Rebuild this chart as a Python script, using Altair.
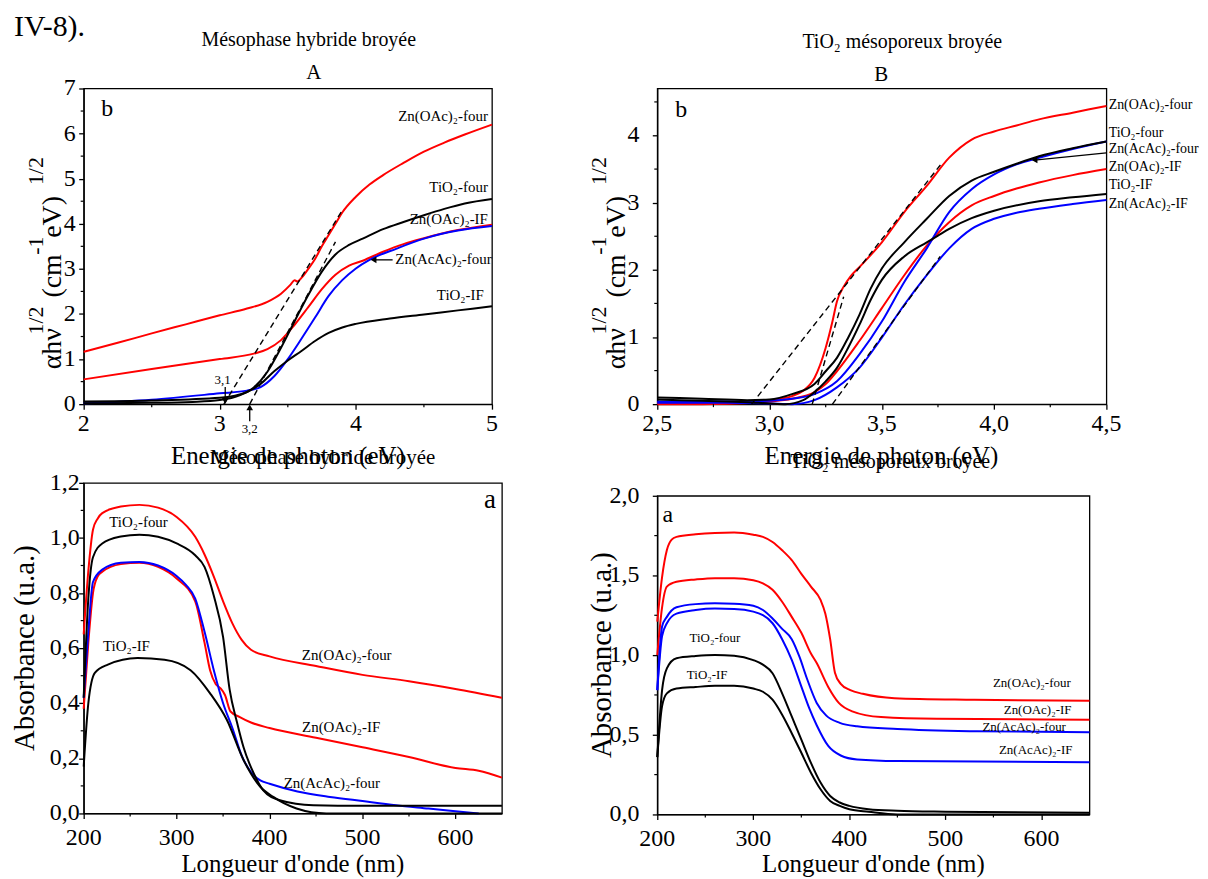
import altair as alt
import pandas as pd

FONT = "Liberation Serif"
RED, BLUE, BLACK = "#ff0000", "#0000ff", "#000000"

# ---------------- Panel A (top-left): Mésophase hybride broyée, Tauc plot ----------------
A_ZnOAc_four_E = [2.0, 2.25, 2.5, 2.75, 3.0, 3.2, 3.35, 3.45, 3.52, 3.55, 3.57, 3.6, 3.65, 3.7, 3.75, 3.8, 3.85, 3.9, 4.0, 4.1, 4.2, 4.35, 4.5, 4.65, 4.8, 5.0]
A_ZnOAc_four_v = [1.16, 1.36, 1.57, 1.77, 1.97, 2.12, 2.27, 2.45, 2.65, 2.75, 2.72, 2.8, 3.0, 3.22, 3.5, 3.75, 4.0, 4.25, 4.6, 4.87, 5.08, 5.35, 5.6, 5.8, 5.98, 6.2]
A_TiO2_four_E = [2.0, 2.5, 2.8, 3.0, 3.15, 3.25, 3.35, 3.45, 3.55, 3.65, 3.75, 3.85, 3.95, 4.05, 4.2, 4.35, 4.5, 4.65, 4.8, 5.0]
A_TiO2_four_v = [0.02, 0.03, 0.05, 0.09, 0.2, 0.37, 0.72, 1.25, 1.84, 2.42, 2.94, 3.32, 3.53, 3.67, 3.88, 4.04, 4.19, 4.33, 4.45, 4.55]
A_ZnOAc_IF_E = [2.0, 2.5, 3.0, 3.25, 3.35, 3.45, 3.55, 3.65, 3.75, 3.85, 3.95, 4.05, 4.2, 4.35, 4.5, 4.75, 5.0]
A_ZnOAc_IF_v = [0.55, 0.78, 1.0, 1.12, 1.22, 1.42, 1.76, 2.15, 2.55, 2.87, 3.07, 3.18, 3.38, 3.55, 3.68, 3.86, 3.98]
A_ZnAcAc_four_E = [2.0, 2.5, 3.0, 3.2, 3.3, 3.4, 3.5, 3.6, 3.7, 3.8, 3.9, 4.0, 4.1, 4.3, 4.5, 4.75, 5.0]
A_ZnAcAc_four_v = [0.02, 0.1, 0.24, 0.3, 0.38, 0.62, 1.0, 1.45, 1.92, 2.4, 2.75, 3.01, 3.2, 3.45, 3.67, 3.85, 3.95]
A_TiO2_IF_E = [2.0, 2.5, 3.0, 3.2, 3.3, 3.4, 3.5, 3.6, 3.7, 3.8, 3.9, 4.0, 4.25, 4.5, 4.75, 5.0]
A_TiO2_IF_v = [0.06, 0.08, 0.14, 0.27, 0.45, 0.73, 0.97, 1.18, 1.4, 1.58, 1.7, 1.78, 1.9, 1.99, 2.08, 2.17]
A_tangents = [(3.03, 0.0, 3.9, 4.3), (3.22, 0.0, 3.85, 3.6)]

# ---------------- Panel B (top-right): TiO2 mésoporeux broyée, Tauc plot ----------------
B_ZnOAc_four_E = [2.5, 2.7, 2.9, 3.0, 3.1, 3.15, 3.2, 3.25, 3.28, 3.3, 3.33, 3.36, 3.4, 3.5, 3.6, 3.7, 3.8, 3.9, 4.0, 4.1, 4.2, 4.35, 4.5]
B_ZnOAc_four_v = [0.0, 0.0, 0.02, 0.06, 0.12, 0.2, 0.39, 0.84, 1.23, 1.53, 1.75, 1.9, 2.04, 2.41, 2.86, 3.25, 3.67, 3.94, 4.06, 4.15, 4.24, 4.34, 4.44]
B_TiO2_four_E = [2.5, 2.7, 2.9, 3.0, 3.1, 3.2, 3.25, 3.3, 3.35, 3.4, 3.45, 3.5, 3.6, 3.7, 3.8, 3.9, 4.0, 4.1, 4.2, 4.35, 4.5]
B_TiO2_four_v = [0.1, 0.08, 0.06, 0.07, 0.15, 0.3, 0.49, 0.69, 0.99, 1.33, 1.72, 2.02, 2.41, 2.76, 3.1, 3.33, 3.46, 3.58, 3.69, 3.81, 3.91]
B_TiO2_IF_E = [2.5, 2.7, 2.9, 3.0, 3.07, 3.15, 3.2, 3.25, 3.3, 3.35, 3.4, 3.45, 3.5, 3.6, 3.7, 3.75, 3.8, 3.9, 4.0, 4.2, 4.35, 4.5]
B_TiO2_IF_v = [0.07, 0.05, 0.03, 0.01, 0.0, 0.06, 0.18, 0.34, 0.54, 0.84, 1.18, 1.55, 1.85, 2.2, 2.41, 2.51, 2.61, 2.77, 2.88, 3.02, 3.08, 3.13]
B_ZnOAc_IF_E = [2.5, 2.8, 3.0, 3.1, 3.2, 3.25, 3.3, 3.4, 3.5, 3.6, 3.7, 3.8, 3.9, 4.0, 4.1, 4.2, 4.35, 4.5]
B_ZnOAc_IF_v = [0.02, 0.01, 0.04, 0.08, 0.18, 0.3, 0.49, 0.94, 1.43, 1.92, 2.36, 2.71, 2.96, 3.1, 3.21, 3.3, 3.41, 3.5]
B_ZnAcAc_four_E = [2.5, 2.8, 3.0, 3.1, 3.2, 3.3, 3.4, 3.5, 3.6, 3.7, 3.8, 3.9, 4.0, 4.1, 4.2, 4.35, 4.5]
B_ZnAcAc_four_v = [0.04, 0.04, 0.05, 0.08, 0.15, 0.34, 0.74, 1.23, 1.82, 2.32, 2.86, 3.2, 3.42, 3.57, 3.67, 3.8, 3.91]
B_ZnAcAc_IF_E = [2.5, 2.8, 3.0, 3.1, 3.2, 3.3, 3.4, 3.5, 3.6, 3.7, 3.8, 3.9, 4.0, 4.1, 4.2, 4.35, 4.5]
B_ZnAcAc_IF_v = [0.02, 0.02, 0.01, 0.0, 0.06, 0.25, 0.54, 0.99, 1.48, 1.92, 2.32, 2.61, 2.76, 2.85, 2.91, 2.98, 3.04]
B_tangents = [(2.92, 0.0, 3.77, 3.6), (3.19, 0.0, 3.33, 1.6), (3.28, 0.0, 3.76, 2.2)]

# ---------------- Panel C (bottom-left): Mésophase hybride broyée, absorbance ----------------
C_ZnOAc_four_nm = [200, 205, 210, 215, 220, 240, 260, 280, 300, 320, 330, 340, 350, 360, 370, 380, 400, 450, 500, 550, 600, 650]
C_ZnOAc_four_A = [0.65, 0.88, 1.03, 1.07, 1.09, 1.114, 1.12, 1.11, 1.076, 1.004, 0.94, 0.86, 0.77, 0.69, 0.63, 0.594, 0.57, 0.535, 0.503, 0.48, 0.452, 0.42]
C_TiO2_four_nm = [200, 205, 210, 220, 240, 260, 280, 300, 320, 330, 340, 350, 357, 365, 372, 383, 393, 411, 447, 500, 570, 650]
C_TiO2_four_A = [0.42, 0.78, 0.93, 0.98, 1.005, 1.012, 1.004, 0.98, 0.937, 0.895, 0.79, 0.64, 0.45, 0.33, 0.24, 0.145, 0.085, 0.048, 0.03, 0.028, 0.028, 0.028]
C_TiO2_IF_nm = [200, 205, 212, 226, 258, 287, 315, 336, 354, 372, 390, 404, 429, 461, 650]
C_TiO2_IF_A = [0.17, 0.4, 0.51, 0.54, 0.564, 0.558, 0.52, 0.436, 0.34, 0.194, 0.097, 0.06, 0.018, 0.0, 0.0]
C_ZnOAc_IF_nm = [200, 205, 210, 215, 220, 240, 260, 280, 300, 320, 330, 336, 342, 347, 352, 358, 368, 380, 400, 450, 500, 550, 600, 625, 650]
C_ZnOAc_IF_A = [0.38, 0.62, 0.8, 0.86, 0.877, 0.905, 0.91, 0.895, 0.853, 0.77, 0.62, 0.52, 0.47, 0.455, 0.43, 0.37, 0.35, 0.33, 0.31, 0.275, 0.24, 0.205, 0.165, 0.155, 0.13]
C_ZnAcAc_four_nm = [200, 205, 210, 220, 240, 260, 280, 300, 310, 320, 330, 340, 350, 360, 370, 380, 390, 400, 430, 465, 500, 536, 571, 600, 625]
C_ZnAcAc_four_A = [0.42, 0.66, 0.84, 0.885, 0.91, 0.913, 0.9, 0.862, 0.83, 0.78, 0.66, 0.52, 0.4, 0.31, 0.21, 0.15, 0.12, 0.108, 0.08, 0.06, 0.045, 0.03, 0.018, 0.008, 0.0]

# ---------------- Panel D (bottom-right): TiO2 mésoporeux broyée, absorbance ----------------
D_ZnOAc_four_nm = [200, 205, 210, 215, 220, 240, 260, 280, 300, 310, 320, 330, 340, 350, 360, 370, 375, 380, 385, 391, 401, 414, 447, 530, 650]
D_ZnOAc_four_A = [1.21, 1.49, 1.66, 1.725, 1.742, 1.758, 1.767, 1.77, 1.756, 1.742, 1.71, 1.658, 1.596, 1.51, 1.43, 1.346, 1.26, 1.1, 0.89, 0.82, 0.78, 0.757, 0.73, 0.72, 0.713]
D_ZnOAc_IF_nm = [200, 205, 210, 220, 240, 260, 280, 300, 310, 320, 330, 340, 350, 360, 366, 378, 389, 403, 433, 491, 650]
D_ZnOAc_IF_A = [1.0, 1.3, 1.43, 1.46, 1.475, 1.483, 1.483, 1.47, 1.45, 1.41, 1.335, 1.24, 1.14, 1.01, 0.95, 0.8, 0.7, 0.647, 0.611, 0.6, 0.595]
D_ZnAcAc_four_nm = [200, 205, 210, 220, 240, 260, 280, 300, 310, 320, 330, 340, 348, 356, 366, 376, 390, 408, 450, 533, 650]
D_ZnAcAc_four_A = [0.78, 1.18, 1.24, 1.3, 1.32, 1.325, 1.323, 1.31, 1.283, 1.23, 1.165, 1.1, 0.99, 0.85, 0.7, 0.62, 0.575, 0.553, 0.536, 0.522, 0.516]
D_ZnAcAc_IF_nm = [200, 205, 210, 220, 240, 260, 280, 300, 320, 330, 340, 349, 358, 366, 378, 391, 408, 450, 650]
D_ZnAcAc_IF_A = [0.78, 1.12, 1.2, 1.26, 1.283, 1.292, 1.29, 1.273, 1.2, 1.1, 0.97, 0.82, 0.67, 0.56, 0.43, 0.37, 0.345, 0.335, 0.328]
D_TiO2_four_nm = [200, 205, 210, 220, 240, 260, 280, 300, 310, 320, 330, 340, 350, 360, 370, 380, 390, 400, 420, 450, 500, 650]
D_TiO2_four_A = [0.36, 0.78, 0.917, 0.98, 0.994, 1.0, 0.996, 0.969, 0.94, 0.886, 0.76, 0.615, 0.47, 0.324, 0.2, 0.116, 0.075, 0.054, 0.033, 0.023, 0.017, 0.01]
D_TiO2_IF_nm = [200, 205, 210, 220, 240, 260, 280, 300, 310, 320, 330, 340, 350, 360, 370, 380, 390, 400, 420, 450, 650]
D_TiO2_IF_A = [0.36, 0.68, 0.76, 0.79, 0.8, 0.807, 0.807, 0.79, 0.77, 0.72, 0.626, 0.51, 0.387, 0.262, 0.158, 0.085, 0.054, 0.033, 0.017, 0.0, 0.0]

# tick values
A_xticks, A_yticks = [2, 3, 4, 5], [0, 1, 2, 3, 4, 5, 6, 7]
A_xminor, A_yminor = [2.5, 3.5, 4.5], [0.5, 1.5, 2.5, 3.5, 4.5, 5.5, 6.5]
B_xticks, B_yticks = [2.5, 3.0, 3.5, 4.0, 4.5], [0, 1, 2, 3, 4]
B_xminor, B_yminor = [2.75, 3.25, 3.75, 4.25], [0.5, 1.5, 2.5, 3.5, 4.5]
C_xticks, C_yticks = [200, 300, 400, 500, 600], [0.0, 0.2, 0.4, 0.6, 0.8, 1.0, 1.2]
C_xminor, C_yminor = [250, 350, 450, 550], [0.1, 0.3, 0.5, 0.7, 0.9, 1.1]
D_xticks, D_yticks = [200, 300, 400, 500, 600], [0.0, 0.5, 1.0, 1.5, 2.0]
D_xminor, D_yminor = [250, 350, 450, 550], [0.25, 0.75, 1.25, 1.75]

ONE = pd.DataFrame({"k": [0]})


def fmt_int(vals):
    return [str(int(round(v))) for v in vals]


def fmt_comma(vals):
    return [f"{v:.1f}".replace(".", ",") for v in vals]


def axis(values):
    # ticks and domain line only; tick labels and titles are drawn as text marks
    return alt.Axis(values=values, labels=False, title=None)


class Panel:
    def __init__(self, xs, ys, xt, yt, w, h):
        self.xs, self.ys, self.w, self.h = xs, ys, w, h
        self.xa, self.ya = axis(xt), axis(yt)

    def X(self, f="x"):
        return alt.X(f + ":Q", scale=self.xs, axis=self.xa)

    def Y(self, f="y"):
        return alt.Y(f + ":Q", scale=self.ys, axis=self.ya)

    def lines(self, series):
        rows = []
        for name, color, xv, yv in series:
            for a, b in zip(xv, yv):
                rows.append({"s": name, "c": color, "x": a, "y": b})
        return alt.Chart(pd.DataFrame(rows)).mark_line(strokeWidth=2, interpolate="monotone").encode(
            x=self.X(), y=self.Y(), color=alt.Color("c:N", scale=None), detail="s:N")

    def dashed(self, segs):
        rows = []
        for k, (x0, y0, x1, y1) in enumerate(segs):
            rows += [{"g": k, "x": x0, "y": y0}, {"g": k, "x": x1, "y": y1}]
        return alt.Chart(pd.DataFrame(rows)).mark_line(color="black", strokeWidth=1.4, strokeDash=[6, 4]).encode(
            x=self.X(), y=self.Y(), detail="g:N")

    def minor(self, xv, yv):
        mx = alt.Chart(pd.DataFrame({"x": xv})).mark_rule(color="black", strokeWidth=1.2).encode(
            x=self.X(), y=alt.value(self.h), y2=alt.value(self.h + 3))
        my = alt.Chart(pd.DataFrame({"y": yv})).mark_rule(color="black", strokeWidth=1.2).encode(
            y=self.Y(), x=alt.value(0), x2=alt.value(-3))
        return [mx, my]

    def ticklabels(self, xt, xtxt, dy, yt, ytxt, dx, size=24):
        lx = alt.Chart(pd.DataFrame({"x": xt, "t": xtxt})).mark_text(
            font=FONT, fontSize=size, align="center", baseline="top", color="black"
        ).encode(x=self.X(), y=alt.value(self.h + dy), text="t:N")
        ly = alt.Chart(pd.DataFrame({"y": yt, "t": ytxt})).mark_text(
            font=FONT, fontSize=size, align="right", baseline="middle", color="black"
        ).encode(y=self.Y(), x=alt.value(dx), text="t:N")
        return [lx, ly]

    def label(self, text, x, y, size=15, align="center"):
        return alt.Chart(pd.DataFrame({"x": [x], "y": [y]})).mark_text(
            text=text, font=FONT, fontSize=size, align=align, baseline="middle", color="black"
        ).encode(x=self.X(), y=self.Y())

    def arrow(self, x0, y0, x1, y1, shape):
        r = alt.Chart(pd.DataFrame({"x": [x0], "y": [y0], "x2": [x1], "y2": [y1]})).mark_rule(
            color="black", strokeWidth=1.3).encode(x=self.X(), y=self.Y(), x2="x2:Q", y2="y2:Q")
        p = alt.Chart(pd.DataFrame({"x": [x1], "y": [y1]})).mark_point(
            shape=shape, filled=True, size=45, color="black", opacity=1).encode(x=self.X(), y=self.Y())
        return [r, p]


def ptext(text, px, py, size, align="center", angle=0):
    return alt.Chart(ONE).mark_text(
        text=text, font=FONT, fontSize=size, align=align, baseline="alphabetic", color="black", angle=angle
    ).encode(x=alt.value(px), y=alt.value(py))


def ghost(px, py):
    # invisible point fixing the extent of a panel for the layout
    return alt.Chart(ONE).mark_rule(opacity=0).encode(
        x=alt.value(px + 0.5), x2=alt.value(px + 1.5), y=alt.value(py + 0.5), y2=alt.value(py + 0.5))


def tauc_title(xm, xs):
    return [
        ptext("\u03b1h\u03bd", xm, 282, 28, "left", 270),
        ptext("1/2", xs, 247, 22, "left", 270),
        ptext("(cm", xm, 210, 28, "left", 270),
        ptext("-1", xs, 167, 22, "left", 270),
        ptext("eV)", xm, 150, 28, "left", 270),
        ptext("1/2", xs, 97, 22, "left", 270),
    ]


# ---------- Panel A ----------
pA = Panel(alt.Scale(domain=[2, 5], nice=False, zero=False), alt.Scale(domain=[0, 7], nice=False, zero=False),
           A_xticks, A_yticks, 410, 317)
A_series = [
    ("Zn(OAc)2-four", RED, A_ZnOAc_four_E, A_ZnOAc_four_v),
    ("Zn(OAc)2-IF", RED, A_ZnOAc_IF_E, A_ZnOAc_IF_v),
    ("Zn(AcAc)2-four", BLUE, A_ZnAcAc_four_E, A_ZnAcAc_four_v),
    ("TiO2-four", BLACK, A_TiO2_four_E, A_TiO2_four_v),
    ("TiO2-IF", BLACK, A_TiO2_IF_E, A_TiO2_IF_v),
]
A = alt.layer(
    pA.lines(A_series),
    pA.dashed(A_tangents),
    *pA.minor(A_xminor, A_yminor),
    *pA.ticklabels(A_xticks, fmt_int(A_xticks), 8, A_yticks, fmt_int(A_yticks), -8),
    pA.label("Zn(OAc)\u2082-four", 4.97, 6.39, 15, "right"),
    pA.label("TiO\u2082-four", 4.97, 4.81, 15, "right"),
    pA.label("Zn(OAc)\u2082-IF", 4.97, 4.11, 15, "right"),
    pA.label("Zn(AcAc)\u2082-four", 4.29, 3.22, 15, "left"),
    pA.label("TiO\u2082-IF", 4.94, 2.42, 15, "right"),
    pA.label("b", 2.13, 6.54, 24, "left"),
    pA.label("3,1", 3.02, 0.53, 13),
    pA.label("3,2", 3.22, -0.56, 13),
    *pA.arrow(4.27, 3.2, 4.13, 3.2, "triangle-left"),
    *pA.arrow(3.04, 0.38, 3.04, 0.07, "triangle-down"),
    *pA.arrow(3.22, -0.38, 3.22, -0.07, "triangle-up"),
    *tauc_title(-23, -41),
    ptext("Energie de photon (eV)", 205, 377, 25),
    ptext("M\u00e9sophase hybride broy\u00e9e", 226, -43, 20),
    ptext("A", 231, -10, 21),
    ptext("IV-8).", -70, -53, 30, "left"),
    ghost(-75, -78),
    ghost(426, 100),
).properties(width=410, height=317)

# ---------- Panel B ----------
pB = Panel(alt.Scale(domain=[2.5, 4.5], nice=False, zero=False), alt.Scale(domain=[0, 4.7], nice=False, zero=False),
           B_xticks, B_yticks, 451, 317)
B_series = [
    ("Zn(OAc)2-four", RED, B_ZnOAc_four_E, B_ZnOAc_four_v),
    ("Zn(OAc)2-IF", RED, B_ZnOAc_IF_E, B_ZnOAc_IF_v),
    ("Zn(AcAc)2-four", BLUE, B_ZnAcAc_four_E, B_ZnAcAc_four_v),
    ("Zn(AcAc)2-IF", BLUE, B_ZnAcAc_IF_E, B_ZnAcAc_IF_v),
    ("TiO2-four", BLACK, B_TiO2_four_E, B_TiO2_four_v),
    ("TiO2-IF", BLACK, B_TiO2_IF_E, B_TiO2_IF_v),
]
B = alt.layer(
    pB.lines(B_series),
    pB.dashed(B_tangents),
    *pB.minor(B_xminor, B_yminor),
    *pB.ticklabels(B_xticks, fmt_comma(B_xticks), 8, B_yticks, fmt_int(B_yticks), -18),
    pB.label("Zn(OAc)\u2082-four", 4.51, 4.46, 14, "left"),
    pB.label("TiO\u2082-four", 4.51, 4.04, 14, "left"),
    pB.label("Zn(AcAc)\u2082-four", 4.51, 3.80, 14, "left"),
    pB.label("Zn(OAc)\u2082-IF", 4.51, 3.53, 14, "left"),
    pB.label("TiO\u2082-IF", 4.51, 3.26, 14, "left"),
    pB.label("Zn(AcAc)\u2082-IF", 4.51, 2.98, 14, "left"),
    pB.label("b", 2.58, 4.38, 24, "left"),
    *pB.arrow(4.5, 3.74, 4.18, 3.635, "triangle-left"),
    *tauc_title(-32, -51),
    ptext("Energie de photon (eV)", 225, 377, 25),
    ptext("TiO\u2082 m\u00e9soporeux broy\u00e9e", 246, -41, 20),
    ptext("B", 225, -8, 21),
    ghost(-80, -78),
).properties(width=451, height=317)

# ---------- Panel C ----------
pC = Panel(alt.Scale(domain=[200, 650], nice=False, zero=False), alt.Scale(domain=[0, 1.2], nice=False, zero=False),
           C_xticks, C_yticks, 420, 332)
C_series = [
    ("Zn(OAc)2-four", RED, C_ZnOAc_four_nm, C_ZnOAc_four_A),
    ("Zn(OAc)2-IF", RED, C_ZnOAc_IF_nm, C_ZnOAc_IF_A),
    ("Zn(AcAc)2-four", BLUE, C_ZnAcAc_four_nm, C_ZnAcAc_four_A),
    ("TiO2-four", BLACK, C_TiO2_four_nm, C_TiO2_four_A),
    ("TiO2-IF", BLACK, C_TiO2_IF_nm, C_TiO2_IF_A),
]
C = alt.layer(
    pC.lines(C_series),
    *pC.minor(C_xminor, C_yminor),
    *pC.ticklabels(C_xticks, fmt_int(C_xticks), 13, C_yticks, fmt_comma(C_yticks), -4),
    pC.label("TiO\u2082-four", 259, 1.058, 15),
    pC.label("TiO\u2082-IF", 246, 0.606, 15),
    pC.label("Zn(OAc)\u2082-four", 483, 0.576, 15),
    pC.label("Zn(OAc)\u2082-IF", 477, 0.315, 15),
    pC.label("Zn(AcAc)\u2082-four", 467, 0.11, 15),
    pC.label("a", 637, 1.136, 27),
    ptext("Longueur d'onde (nm)", 210, 391, 25),
    ptext("Absorbance (u.a.)", -50, 166, 29, "center", 270),
    ptext("M\u00e9sophase hybride broy\u00e9e", 240, -19, 21),
).properties(width=420, height=332)

# ---------- Panel D ----------
pD = Panel(alt.Scale(domain=[200, 650], nice=False, zero=False), alt.Scale(domain=[0, 2.0], nice=False, zero=False),
           D_xticks, D_yticks, 434, 320)
D_series = [
    ("Zn(OAc)2-four", RED, D_ZnOAc_four_nm, D_ZnOAc_four_A),
    ("Zn(OAc)2-IF", RED, D_ZnOAc_IF_nm, D_ZnOAc_IF_A),
    ("Zn(AcAc)2-four", BLUE, D_ZnAcAc_four_nm, D_ZnAcAc_four_A),
    ("Zn(AcAc)2-IF", BLUE, D_ZnAcAc_IF_nm, D_ZnAcAc_IF_A),
    ("TiO2-four", BLACK, D_TiO2_four_nm, D_TiO2_four_A),
    ("TiO2-IF", BLACK, D_TiO2_IF_nm, D_TiO2_IF_A),
]
D = alt.layer(
    pD.lines(D_series),
    *pD.minor(D_xminor, D_yminor),
    *pD.ticklabels(D_xticks, fmt_int(D_xticks), 13, D_yticks, fmt_comma(D_yticks), -18),
    pD.label("TiO\u2082-four", 260, 1.106, 13),
    pD.label("TiO\u2082-IF", 252, 0.875, 13),
    pD.label("Zn(OAc)\u2082-four", 590, 0.823, 13),
    pD.label("Zn(OAc)\u2082-IF", 596, 0.657, 13),
    pD.label("Zn(AcAc)\u2082-four", 582, 0.549, 13),
    pD.label("Zn(AcAc)\u2082-IF", 594, 0.407, 13),
    pD.label("a", 211, 1.88, 24),
    ptext("Longueur d'onde (nm)", 217, 378, 25),
    ptext("Absorbance (u.a.)", -46, 160, 29, "center", 270),
    ptext("TiO\u2082 m\u00e9soporeux broy\u00e9e", 234, -28, 20),
).properties(width=434, height=320)

left = alt.vconcat(A, C, spacing=79, bounds="flush").resolve_scale(x="independent", y="independent")
right = alt.vconcat(B, D, spacing=92, bounds="flush").resolve_scale(x="independent", y="independent")

chart = alt.hconcat(left, right, spacing=66).resolve_scale(
    x="independent", y="independent"
).properties(padding=0).configure(font=FONT).configure_axis(
    grid=False, domainColor="black", domainWidth=1.3, tickColor="black", tickWidth=1.3, tickSize=5,
).configure_view(stroke="black", strokeWidth=1.3)

chart.save("out.html", embed_options={"renderer": "svg", "actions": False})
